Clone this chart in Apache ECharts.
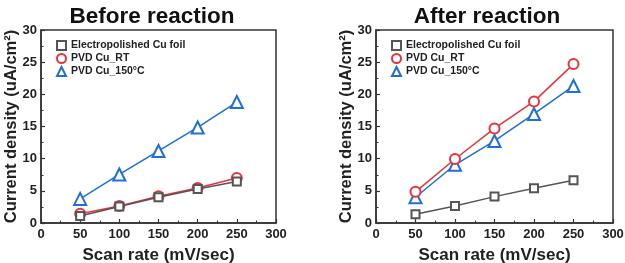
<!DOCTYPE html>
<html>
<head>
<meta charset="utf-8">
<script src="https://cdn.jsdelivr.net/npm/echarts@6/dist/echarts.min.js"></script>
<style>
  html, body { margin: 0; padding: 0; background: #fff; }
  #chart { width: 625px; height: 263px; }
</style>
</head>
<body>
<div id="chart"></div>
<script>
// scan rates (mV/sec)
const scanRates = [50, 100, 150, 200, 250];
const seriesNames = ["Electropolished Cu foil", "PVD Cu_RT", "PVD Cu_150\u00B0C"];

// before reaction
const beforeFoil = [1.1, 2.55, 4.0, 5.3, 6.45];
const beforeRT = [1.45, 2.65, 4.15, 5.45, 7.0];
const before150 = [3.75, 7.55, 11.2, 14.85, 18.8];

// after reaction
const afterFoil = [1.35, 2.65, 4.1, 5.4, 6.65];
const afterRT = [4.85, 9.95, 14.7, 18.9, 24.7];
const after150 = [4.0, 9.05, 12.75, 16.95, 21.3];

const colors = ["#555555", "#e8333c", "#1f6fd6"];
const symbols = ["emptyRect", "emptyCircle", "emptyTriangle"];
const symbolSizes = [8, 10, 12];
const font = "Liberation Sans, Arial, sans-serif";

let myChart = echarts.init(document.getElementById("chart"));

function pairs(ys) {
  return scanRates.map((x, i) => [x, ys[i]]);
}

function makeSeries(idx, values) {
  return values.map((v, i) => ({
    name: seriesNames[i],
    type: "line",
    xAxisIndex: idx,
    yAxisIndex: idx,
    data: pairs(v),
    symbol: symbols[i],
    symbolSize: symbolSizes[i],
    z: 5 - i,
    lineStyle: { color: colors[i], width: 1.5 },
    itemStyle: { color: colors[i], borderWidth: 2.2 },
  }));
}

function xAxis(idx) {
  return {
    type: "value",
    gridIndex: idx,
    min: 0,
    max: 300,
    interval: 50,
    name: "Scan rate (mV/sec)",
    nameLocation: "middle",
    nameGap: 24,
    nameTextStyle: { fontFamily: font, fontWeight: "bold", fontSize: 17, color: "#222" },
    axisLine: { lineStyle: { color: "#333", width: 1.5 } },
    axisTick: { inside: true, length: 4, lineStyle: { color: "#333", width: 1.2 } },
    minorTick: { show: true, splitNumber: 2, length: 2.5, lineStyle: { color: "#333" } },
    splitLine: { show: false },
    axisLabel: { fontFamily: font, fontWeight: "bold", fontSize: 13, color: "#222", margin: 5 },
  };
}

function yAxis(idx) {
  return {
    type: "value",
    gridIndex: idx,
    min: 0,
    max: 30,
    interval: 5,
    name: "Current density (uA/cm\u00B2)",
    nameLocation: "middle",
    nameGap: 21,
    nameMoveOverlap: false,
    nameTextStyle: { fontFamily: font, fontWeight: "bold", fontSize: 16.5, color: "#222" },
    axisLine: { show: true, lineStyle: { color: "#333", width: 1.5 } },
    axisTick: { show: true, inside: true, length: 4, lineStyle: { color: "#333", width: 1.2 } },
    minorTick: { show: true, splitNumber: 2, length: 2.5, lineStyle: { color: "#333" } },
    splitLine: { show: false },
    axisLabel: { fontFamily: font, fontWeight: "bold", fontSize: 13, color: "#222", margin: 4 },
  };
}

function legend(left) {
  return {
    left: left,
    top: 40,
    padding: 0,
    orient: "vertical",
    itemGap: 2,
    itemWidth: 9,
    itemHeight: 9,
    textStyle: { fontFamily: font, fontWeight: "bold", fontSize: 10.5, color: "#222" },
    data: seriesNames.map((n, i) => ({ name: n, icon: symbols[i] })),
  };
}

myChart.setOption({
  animation: false,
  title: [
    {
      text: "Before reaction",
      left: 147,
      textAlign: "center",
      top: 0,
      textStyle: { fontFamily: font, fontWeight: "bold", fontSize: 22.5, color: "#111" },
    },
    {
      text: "After reaction",
      left: 482,
      textAlign: "center",
      top: 0,
      textStyle: { fontFamily: font, fontWeight: "bold", fontSize: 22.5, color: "#111" },
    },
  ],
  grid: [
    { left: 41, right: 349, top: 30, bottom: 40, outerBoundsMode: "none", containLabel: false,
      show: true, borderColor: "#333", borderWidth: 1.5 },
    { left: 376, right: 12, top: 30, bottom: 40, outerBoundsMode: "none", containLabel: false,
      show: true, borderColor: "#333", borderWidth: 1.5 },
  ],
  legend: [legend(56), legend(391)],
  xAxis: [xAxis(0), xAxis(1)],
  yAxis: [yAxis(0), yAxis(1)],
  series: [
    ...makeSeries(0, [beforeFoil, beforeRT, before150]),
    ...makeSeries(1, [afterFoil, afterRT, after150]),
  ],
});
</script>
</body>
</html>
